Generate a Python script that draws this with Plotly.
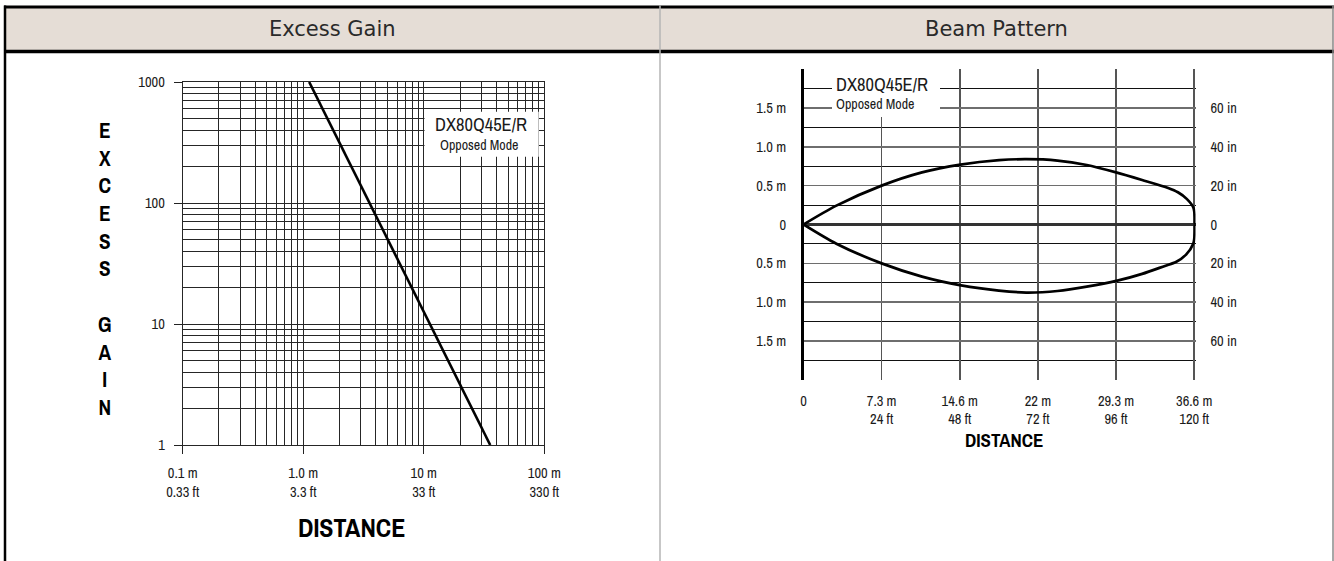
import plotly.graph_objects as go

W, H = 1334, 561


def px(x):
    return x / W


def py(y):
    return 1 - y / H


# ---------------- data ----------------
eg_distance_m = [1.12, 3.54, 11.2, 35.6]
eg_gain = [1000, 100, 10, 1]

eg_x_ticks = [0.1, 1, 10, 100]
eg_x_labels = ["0.1 m<br>0.33 ft", "1.0 m<br>3.3 ft", "10 m<br>33 ft", "100 m<br>330 ft"]
eg_x_minor = [0.2, 0.3, 0.4, 0.5, 0.6, 0.7, 0.8, 0.9,
              2, 3, 4, 5, 6, 7, 8, 9,
              20, 30, 40, 50, 60, 70, 80, 90]
eg_y_ticks = [1, 10, 100, 1000]
eg_y_labels = ["1", "10", "100", "1000"]
eg_y_minor = [2, 3, 4, 5, 6, 7, 8, 9,
              20, 30, 40, 50, 60, 70, 80, 90,
              200, 300, 400, 500, 600, 700, 800, 900]

bp_upper_ft = [0, 10.1, 24, 36.4, 48.2, 60.1, 68.4, 78, 87, 96, 104, 112, 115, 117.7, 119.7, 120.2, 120.2]
bp_upper_in = [0, 9.7, 20, 26.8, 30.8, 33.1, 33.6, 32.9, 30.6, 26.8, 22.9, 18.8, 16.6, 13.2, 8.9, 4, 0]
bp_lower_ft = [0, 10.1, 24, 36.4, 48.4, 60, 68.4, 78, 87, 96.4, 104, 111, 114.4, 117.5, 119.7, 120.2, 120.2]
bp_lower_in = [0, -9.9, -20, -26.8, -31.3, -34, -35, -34.2, -32, -28.9, -25.4, -21.3, -19.3, -15.5, -9.9, -4, 0]

bp_x_ticks = [0, 24, 48, 72, 96, 120]
bp_x_labels = ["0", "7.3 m<br>24 ft", "14.6 m<br>48 ft", "22 m<br>72 ft", "29.3 m<br>96 ft", "36.6 m<br>120 ft"]
bp_y_ticks = [60, 40, 20, 0, -20, -40, -60]
bp_y_labels_m = ["1.5 m", "1.0 m", "0.5 m", "0", "0.5 m", "1.0 m", "1.5 m"]
bp_y_labels_in = ["60 in", "40 in", "20 in", "0", "20 in", "40 in", "60 in"]
bp_y_minor = [70, 50, 30, 10, -10, -30, -50, -70]

titles = ["Excess Gain", "Beam Pattern"]
model = "DX80Q45E/R"
mode = "Opposed Mode"
y_title_letters = ["E", "X", "C", "E", "S", "S", "", "G", "A", "I", "N"]

NARROW = "Archivo Narrow, Liberation Sans Narrow, sans-serif"
HEAD = "DejaVu Sans, Verdana, sans-serif"
INK = "#1a1a1a"

fig = go.Figure()

fig.add_trace(go.Scatter(
    x=eg_distance_m, y=eg_gain, mode="lines",
    line=dict(color="#000", width=2.6), xaxis="x", yaxis="y",
    showlegend=False, hoverinfo="skip"))

for xs, ys in ((bp_upper_ft, bp_upper_in), (bp_lower_ft, bp_lower_in)):
    fig.add_trace(go.Scatter(
        x=xs, y=ys, mode="lines", line=dict(color="#000", width=2.7, shape="spline", smoothing=0.8),
        xaxis="x2", yaxis="y2", showlegend=False, hoverinfo="skip"))

# invisible companion trace so the right-hand (inch) axis is rendered
fig.add_trace(go.Scatter(
    x=bp_upper_ft, y=bp_upper_in, mode="lines", line=dict(color="rgba(0,0,0,0)", width=0),
    xaxis="x2", yaxis="y3", showlegend=False, hoverinfo="skip"))

tickfont = dict(family=NARROW, size=14.5, color=INK)
GRID = "#262626"

fig.update_layout(
    width=W, height=H,
    margin=dict(l=0, r=0, t=0, b=0, autoexpand=False),
    paper_bgcolor="white", plot_bgcolor="rgba(0,0,0,0)",
    showlegend=False,
    xaxis=dict(
        type="log", range=[-1, 2], domain=[px(182.7), px(544.3)], anchor="y", automargin=False,
        tickmode="array", tickvals=eg_x_ticks, ticktext=eg_x_labels,
        ticks="outside", ticklen=8, tickwidth=1, tickcolor="#222",
        tickfont=tickfont, ticklabelstandoff=7,
        showgrid=True, gridcolor=GRID, gridwidth=1,
        minor=dict(tickmode="array", tickvals=eg_x_minor, showgrid=True,
                   gridcolor=GRID, gridwidth=1, ticks=""),
        showline=True, linecolor=GRID, linewidth=1, mirror=True,
        zeroline=False, fixedrange=True),
    yaxis=dict(
        type="log", range=[0, 3], domain=[py(445), py(82)], anchor="x", automargin=False,
        tickmode="array", tickvals=eg_y_ticks, ticktext=eg_y_labels,
        ticks="outside", ticklen=8, tickwidth=1, tickcolor="#222",
        tickfont=tickfont, ticklabelstandoff=6,
        showgrid=True, gridcolor=GRID, gridwidth=1,
        minor=dict(tickmode="array", tickvals=eg_y_minor, showgrid=True,
                   gridcolor=GRID, gridwidth=1, ticks=""),
        showline=True, linecolor=GRID, linewidth=1, mirror=True,
        zeroline=False, fixedrange=True),
    xaxis2=dict(
        range=[0, 120.4], domain=[px(803.5), px(803.5 + 390.7 * 120.4 / 120)], anchor="y2", automargin=False,
        tickmode="array", tickvals=bp_x_ticks, ticktext=bp_x_labels,
        ticks="", tickfont=tickfont, ticklabelstandoff=10,
        showgrid=True, gridcolor="#555", gridwidth=1.6,
        showline=False, zeroline=False, fixedrange=True),
    yaxis2=dict(
        range=[-80, 80], domain=[py(380), py(69)], anchor="x2", automargin=False,
        tickmode="array", tickvals=bp_y_ticks, ticktext=bp_y_labels_m,
        ticks="", tickfont=tickfont, ticklabelstandoff=12,
        showgrid=True, gridcolor="#6e6e6e", gridwidth=1.6,
        minor=dict(tickmode="array", tickvals=bp_y_minor, showgrid=True,
                   gridcolor="#111", gridwidth=1, ticks=""),
        showline=True, linecolor="#000", linewidth=2.5,
        zeroline=True, zerolinecolor="#333", zerolinewidth=2.2, fixedrange=True),
    yaxis3=dict(
        range=[-80, 80], domain=[py(380), py(69)], anchor="x2", overlaying="y2", side="right", automargin=False,
        tickmode="array", tickvals=bp_y_ticks, ticktext=bp_y_labels_in,
        ticks="", tickfont=tickfont, ticklabelstandoff=14,
        showgrid=False, showline=False, zeroline=False, fixedrange=True),
)

shapes = [
    dict(type="rect", xref="paper", yref="paper", x0=px(5), x1=px(1333), y0=py(51.5), y1=py(7),
         fillcolor="#e5ddd6", line=dict(width=0), layer="below"),
    dict(type="line", xref="paper", yref="paper", x0=px(4), x1=px(1334), y0=py(7), y1=py(7),
         line=dict(color="#000", width=3)),
    dict(type="line", xref="paper", yref="paper", x0=px(4), x1=px(1334), y0=py(51.5), y1=py(51.5),
         line=dict(color="#000", width=3.5)),
    dict(type="line", xref="paper", yref="paper", x0=px(5), x1=px(5), y0=py(561), y1=py(5.5),
         line=dict(color="#000", width=2.5)),
    dict(type="line", xref="paper", yref="paper", x0=px(660), x1=px(660), y0=py(561), y1=py(5.5),
         line=dict(color="#b4b4b4", width=1.5)),
    dict(type="line", xref="paper", yref="paper", x0=px(1333), x1=px(1333), y0=py(561), y1=py(5.5),
         line=dict(color="#8a8a8a", width=1.5)),
    dict(type="rect", xref="paper", yref="paper", x0=px(424.5), x1=px(538.7), y0=py(156.7), y1=py(111.7),
         fillcolor="white", line=dict(width=0), layer="above"),
    dict(type="rect", xref="paper", yref="paper", x0=px(832), x1=px(940), y0=py(117), y1=py(66),
         fillcolor="white", line=dict(width=0), layer="above"),
]
fig.update_layout(shapes=shapes)

ann = []
ann.append(dict(x=px(332.7), y=py(29), text=titles[0], showarrow=False, xanchor="center", yanchor="middle",
                font=dict(family=HEAD, size=21, color="#2a2a2a")))
ann.append(dict(x=px(996.5), y=py(29), text=titles[1], showarrow=False, xanchor="center", yanchor="middle",
                font=dict(family=HEAD, size=21, color="#2a2a2a")))
# stacked vertical axis title as one multi-line text
ann.append(dict(x=px(104.7), y=py(269), text="<b>" + "<br>".join(y_title_letters) + "</b>", showarrow=False,
                xanchor="center", yanchor="middle", align="center",
                font=dict(family=NARROW, size=21.3, color="#000")))
ann.append(dict(x=px(351.7), y=py(527.3), text="<b>DISTANCE</b>", showarrow=False, xanchor="center",
                yanchor="middle", font=dict(family=NARROW, size=26, color="#000")))
ann.append(dict(x=px(1004), y=py(440), text="<b>DISTANCE</b>", showarrow=False, xanchor="center",
                yanchor="middle", font=dict(family=NARROW, size=19, color="#000")))
ann.append(dict(x=px(481.3), y=py(124.5), text=model, showarrow=False, xanchor="center", yanchor="middle",
                font=dict(family=NARROW, size=18.5, color=INK)))
ann.append(dict(x=px(479.8), y=py(144.5), text=mode, showarrow=False, xanchor="center", yanchor="middle",
                font=dict(family=NARROW, size=14, color=INK)))
ann.append(dict(x=px(834), y=py(84.5), text=model, showarrow=False, xanchor="left", yanchor="middle",
                font=dict(family=NARROW, size=18.5, color=INK)))
ann.append(dict(x=px(834), y=py(104), text=mode, showarrow=False, xanchor="left", yanchor="middle",
                font=dict(family=NARROW, size=14, color=INK)))
for a in ann:
    a["xref"] = "paper"
    a["yref"] = "paper"
fig.update_layout(annotations=ann)

fig.write_html("out.html", config={"displayModeBar": False, "staticPlot": True},
               post_script="document.body.style.margin='0';document.body.style.padding='0';")
